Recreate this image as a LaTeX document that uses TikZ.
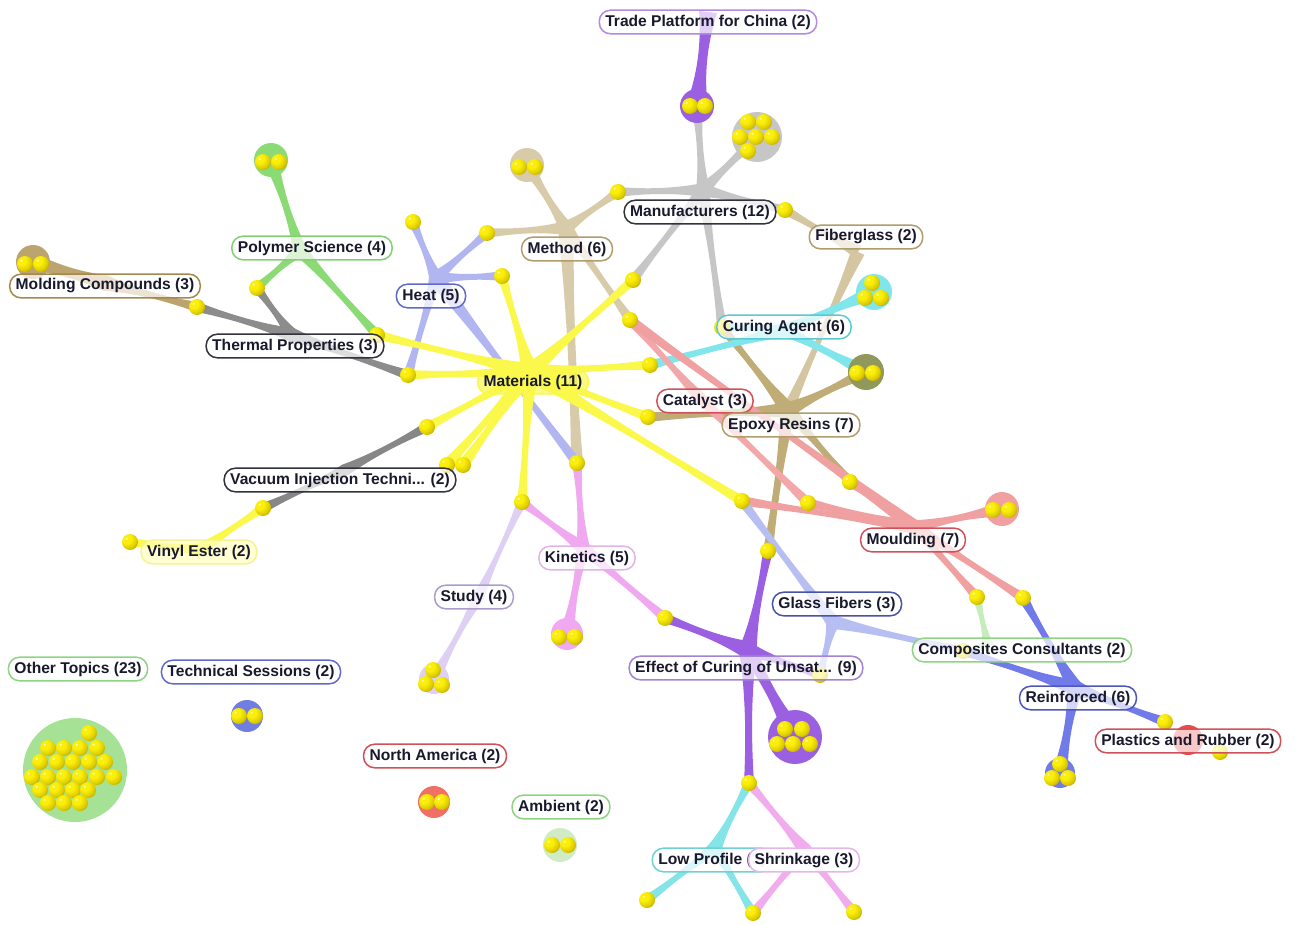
\documentclass[tikz,border=0pt]{standalone}
\usepackage{fontspec}
\setmainfont{Liberation Sans}
\usetikzlibrary{calc}

% strand colours
\definecolor{matY}{RGB}{250,248,75}
\definecolor{manG}{RGB}{198,198,198}
\definecolor{methT}{RGB}{215,203,170}
\definecolor{heatB}{RGB}{178,182,240}
\definecolor{polyG}{RGB}{140,218,118}
\definecolor{thermG}{RGB}{140,140,140}
\definecolor{moldT}{RGB}{188,164,110}
\definecolor{curC}{RGB}{128,230,235}
\definecolor{fibT}{RGB}{212,198,160}
\definecolor{epoT}{RGB}{192,172,118}
\definecolor{catR}{RGB}{242,168,168}
\definecolor{mouR}{RGB}{240,160,160}
\definecolor{vacG}{RGB}{135,135,135}
\definecolor{kinP}{RGB}{240,168,240}
\definecolor{stuL}{RGB}{222,208,242}
\definecolor{effP}{RGB}{155,95,225}
\definecolor{glaB}{RGB}{182,190,242}
\definecolor{comG}{RGB}{198,236,188}
\definecolor{reiB}{RGB}{112,122,232}
\definecolor{lowC}{RGB}{132,228,232}
\definecolor{shrP}{RGB}{240,172,236}
\definecolor{epoBlob}{RGB}{145,152,92}
\definecolor{techBlob}{RGB}{112,126,226}
\definecolor{naBlob}{RGB}{240,112,102}
\definecolor{ambBlob}{RGB}{208,236,198}
\definecolor{othBlob}{RGB}{165,226,150}
\definecolor{plaBlob}{RGB}{238,72,72}
% label borders
\definecolor{bTrade}{RGB}{178,138,226}
\definecolor{bDark}{RGB}{50,50,62}
\definecolor{bTan}{RGB}{176,156,108}
\definecolor{bPoly}{RGB}{132,206,116}
\definecolor{bHeat}{RGB}{96,106,200}
\definecolor{bMold}{RGB}{166,136,78}
\definecolor{bCur}{RGB}{92,200,210}
\definecolor{bRed}{RGB}{210,80,90}
\definecolor{bVinyl}{RGB}{244,244,150}
\definecolor{fVinyl}{RGB}{255,255,190}
\definecolor{bKin}{RGB}{226,180,230}
\definecolor{bStudy}{RGB}{172,156,206}
\definecolor{bGlass}{RGB}{72,82,166}
\definecolor{bGreen}{RGB}{142,212,130}
\definecolor{bTech}{RGB}{96,106,206}
\definecolor{bEff}{RGB}{162,132,212}
\definecolor{bReinf}{RGB}{78,88,186}
\definecolor{bLow}{RGB}{112,208,215}
\definecolor{bShr}{RGB}{230,182,235}
\definecolor{txt}{RGB}{25,25,45}
% document sphere shades
\definecolor{ysHi}{RGB}{255,255,200}
\definecolor{ysMain}{RGB}{250,238,10}
\definecolor{ysMid}{RGB}{222,204,0}
\definecolor{ysDark}{RGB}{160,140,0}
\definecolor{ysEdge}{RGB}{105,92,0}
\pgfdeclareradialshading{docsphere}{\pgfpoint{-12bp}{12bp}}{%
  color(0bp)=(ysHi); color(5bp)=(ysMain); color(14bp)=(ysMain);
  color(28bp)=(ysMid); color(42bp)=(ysDark); color(56bp)=(ysEdge); color(100bp)=(ysEdge)}

% tapered strand: [mid half width]{colour}{from}{to}{half width at from}{half width at to}
\newcommand\strand[6][2]{%
  \fill[#2] ($(#3)!#5pt!90:(#4)$)
    .. controls ($(#3)!0.33!(#4)!#1pt!90:(#4)$) and ($(#3)!0.67!(#4)!#1pt!90:(#4)$)
    .. ($(#4)!#6pt!-90:(#3)$) -- ($(#4)!#6pt!90:(#3)$)
    .. controls ($(#3)!0.67!(#4)!#1pt!-90:(#4)$) and ($(#3)!0.33!(#4)!#1pt!-90:(#4)$)
    .. ($(#3)!#5pt!-90:(#4)$) -- cycle;}

\tikzset{
  ballnode/.style={circle, minimum size=16pt, inner sep=0pt, shading=docsphere},
  blob/.style={circle, fill=#1, inner sep=0pt},
  lbl/.style={rounded corners=11pt, draw=#1, line width=1.5pt, fill=white,
    fill opacity=0.7, text opacity=1, inner xsep=6pt, inner ysep=4.5pt,
    font=\fontsize{15.6}{17}\selectfont\bfseries, text=txt},
}

\begin{document}
\begin{tikzpicture}[x=1pt,y=-1pt]
\useasboundingbox (0,0) rectangle (1297,925);
\fill[white] (0,0) rectangle (1297,925);

% ---------- document positions ----------
\coordinate (t1) at (690,106);  \coordinate (t2) at (705,106);
\coordinate (m1) at (748,122);  \coordinate (m2) at (764,122);
\coordinate (m3) at (740,137);  \coordinate (m4) at (756,137);
\coordinate (m5) at (772,137);  \coordinate (m6) at (748,151);
\coordinate (d1) at (519,167);  \coordinate (d2) at (535,167);
\coordinate (b618) at (618,192);
\coordinate (b785) at (785,210);
\coordinate (h1) at (413,222);
\coordinate (b487) at (487,233);
\coordinate (b502) at (502,276);
\coordinate (b633) at (633,280);
\coordinate (p1) at (263,162);  \coordinate (p2) at (279,162);
\coordinate (b257) at (257,288);
\coordinate (mc1) at (25,264);  \coordinate (mc2) at (41,264);
\coordinate (b197) at (197,307);
\coordinate (b377) at (377,335);
\coordinate (b408) at (408,375);
\coordinate (c1) at (872,283);  \coordinate (c2) at (865,298);  \coordinate (c3) at (881,298);
\coordinate (e1) at (857,373);  \coordinate (e2) at (873,373);
\coordinate (b630) at (630,320);
\coordinate (b650) at (650,365);
\coordinate (b648) at (648,417);
\coordinate (b722) at (722,327);
\coordinate (b850) at (850,482);
\coordinate (b808) at (808,503);
\coordinate (b742) at (742,501);
\coordinate (mo1) at (993,510); \coordinate (mo2) at (1009,510);
\coordinate (b427) at (427,427);
\coordinate (v1) at (447,465);  \coordinate (v2) at (463,465);
\coordinate (b263) at (263,508);
\coordinate (b130) at (130,542);
\coordinate (b522) at (522,502);
\coordinate (b577) at (577,463);
\coordinate (k1) at (559,637);  \coordinate (k2) at (575,637);
\coordinate (b665) at (665,618);
\coordinate (b768) at (768,551);
\coordinate (ef1) at (785,729); \coordinate (ef2) at (802,729);
\coordinate (ef3) at (777,744); \coordinate (ef4) at (793,744); \coordinate (ef5) at (810,744);
\coordinate (b820) at (820,675);
\coordinate (b749) at (749,783);
\coordinate (b647) at (647,900);
\coordinate (b753) at (753,913);
\coordinate (b854) at (854,912);
\coordinate (s1) at (433,670);  \coordinate (s2) at (426,684);  \coordinate (s3) at (442,685);
\coordinate (tc1) at (239,716); \coordinate (tc2) at (255,716);
\coordinate (na1) at (427,802); \coordinate (na2) at (442,802);
\coordinate (a1) at (552,845);  \coordinate (a2) at (568,845);
\coordinate (b977) at (977,597);
\coordinate (b1023) at (1023,598);
\coordinate (b963) at (963,651);
\coordinate (r1) at (1060,764); \coordinate (r2) at (1052,778); \coordinate (r3) at (1068,778);
\coordinate (b1165) at (1165,722);
\coordinate (b1220) at (1220,752);

% ---------- cluster centres ----------
\coordinate (tradeC) at (697,106);
\coordinate (manufC) at (757,137);
\coordinate (methodC) at (527,165);
\coordinate (polyC) at (271,160);
\coordinate (moldC) at (33,262);
\coordinate (curingC) at (874,292);
\coordinate (epoxyC) at (866,372);
\coordinate (mouldC) at (1002,509);
\coordinate (kinC) at (567,634);
\coordinate (effectC) at (795,737);
\coordinate (studyC) at (434,679);
\coordinate (techC) at (247,716);
\coordinate (naC) at (434,802);
\coordinate (ambC) at (560,845);
\coordinate (reinfC) at (1060,773);
\coordinate (plastC) at (1188,740);
\coordinate (otherC) at (75,770);

% ---------- hubs ----------
\coordinate (hTrade) at (708,12);
\coordinate (hManuf) at (703,190);
\coordinate (hMethod) at (566,228);
\coordinate (hHeat) at (436,278);
\coordinate (hPoly) at (300,250);
\coordinate (hThermal) at (292,335);
\coordinate (hMold) at (105,283);
\coordinate (hCuring) at (785,330);
\coordinate (hFiber) at (858,252);
\coordinate (hEpoxy) at (788,410);
\coordinate (hMat) at (530,372);
\coordinate (hCat) at (700,398);
\coordinate (hMould) at (915,527);
\coordinate (hVac) at (345,470);
\coordinate (hVinyl) at (200,550);
\coordinate (hKin) at (583,548);
\coordinate (hStudy) at (478,598);
\coordinate (hEffect) at (748,650);
\coordinate (hGlass) at (833,622);
\coordinate (hComp) at (988,646);
\coordinate (hReinf) at (1075,688);
\coordinate (hLow) at (715,848);
\coordinate (hShrink) at (805,850);

% ---------- strands ----------
% Trade Platform for China
\strand[3]{effP}{hTrade}{tradeC}{9}{11}
% Manufacturers
\strand{manG}{hManuf}{tradeC}{7}{6}
\strand{manG}{hManuf}{manufC}{7}{8}
\strand{manG}{hManuf}{b618}{7}{5}
\strand{manG}{hManuf}{b785}{7}{5}
\strand{manG}{hManuf}{b633}{7}{5}
\strand{manG}{hManuf}{b722}{7}{5}
% Method
\strand{methT}{hMethod}{methodC}{7}{8}
\strand{methT}{hMethod}{b618}{7}{5}
\strand{methT}{hMethod}{b487}{7}{5}
\strand[3]{methT}{hMethod}{b577}{8}{6}
\strand{methT}{hMethod}{b630}{7}{5}
% Heat
\strand{heatB}{hHeat}{h1}{7}{5}
\strand{heatB}{hHeat}{b487}{7}{5}
\strand{heatB}{hHeat}{b502}{7}{5}
\strand{heatB}{hHeat}{b408}{7}{5}
\strand{heatB}{hHeat}{b577}{8}{5}
% Fiberglass
\strand{fibT}{hFiber}{b785}{7}{5}
\strand[1.5]{fibT}{hFiber}{hEpoxy}{7}{6}
% Epoxy Resins
\strand{epoT}{hEpoxy}{b722}{8}{5}
\strand{epoT}{hEpoxy}{epoxyC}{8}{7}
\strand{epoT}{hEpoxy}{b648}{8}{5}
\strand{epoT}{hEpoxy}{b850}{8}{5}
\strand[2.5]{epoT}{hEpoxy}{b768}{8}{5}
% Curing Agent
\strand{curC}{hCuring}{curingC}{7}{9}
\strand{curC}{hCuring}{epoxyC}{7}{8}
\strand{curC}{hCuring}{b650}{7}{5}
\strand{curC}{hCuring}{b722}{7}{5}
% Materials
\strand{matY}{hMat}{b377}{9}{5}
\strand{matY}{hMat}{b408}{9}{5}
\strand{matY}{hMat}{b502}{9}{5}
\strand{matY}{hMat}{b633}{9}{5}
\strand{matY}{hMat}{b650}{9}{5}
\strand{matY}{hMat}{b648}{9}{5}
\strand{matY}{hMat}{b742}{9}{5}
\strand{matY}{hMat}{b522}{9}{5}
\strand{matY}{hMat}{b427}{9}{5}
\strand{matY}{hMat}{v1}{9}{6}
\strand{matY}{hMat}{v2}{9}{6}
% Catalyst
\strand{catR}{hCat}{b630}{6}{5}
\strand{catR}{hCat}{b808}{6}{5}
% Moulding
\strand{mouR}{hMould}{mouldC}{7}{8}
\strand{mouR}{hMould}{b808}{7}{5}
\strand{mouR}{hMould}{b742}{7}{5}
\strand{mouR}{hMould}{b850}{7}{5}
\strand{mouR}{hMould}{b977}{7}{5}
\strand{mouR}{hMould}{b1023}{7}{5}
\strand{mouR}{hMould}{b630}{7}{5}
% Thermal Properties
\strand{thermG}{hThermal}{b197}{7}{5}
\strand{thermG}{hThermal}{b257}{7}{5}
\strand{thermG}{hThermal}{b408}{7}{5}
% Polymer Science
\strand{polyG}{hPoly}{polyC}{7}{8}
\strand{polyG}{hPoly}{b257}{7}{5}
\strand{polyG}{hPoly}{b377}{7}{5}
% Molding Compounds
\strand[4]{moldT}{hMold}{moldC}{8}{9}
\strand{moldT}{hMold}{b197}{8}{5}
% Vacuum Injection
\strand{vacG}{hVac}{b427}{6}{5}
\strand{vacG}{hVac}{b263}{6}{5}
% Vinyl Ester
\strand{matY}{hVinyl}{b263}{7}{5}
\strand{matY}{hVinyl}{b130}{7}{5}
% Kinetics
\strand{kinP}{hKin}{b577}{7}{5}
\strand{kinP}{hKin}{b522}{7}{5}
\strand{kinP}{hKin}{kinC}{7}{8}
\strand{kinP}{hKin}{b665}{7}{5}
% Study
\strand[1.5]{stuL}{hStudy}{b522}{6}{5}
\strand[1.5]{stuL}{hStudy}{studyC}{6}{7}
% Effect of Curing
\strand[2.5]{effP}{hEffect}{b768}{9}{5}
\strand[2.5]{effP}{hEffect}{b665}{9}{5}
\strand[3]{effP}{hEffect}{effectC}{9}{12}
\strand[2.5]{effP}{hEffect}{b749}{9}{5}
\strand{effP}{hEffect}{b820}{8}{5}
% Glass Fibers
\strand{glaB}{hGlass}{b742}{7}{5}
\strand{glaB}{hGlass}{b820}{7}{5}
\strand{glaB}{hGlass}{b963}{7}{5}
% Composites Consultants
\strand[1.5]{comG}{hComp}{b977}{6}{5}
\strand[1.5]{comG}{hComp}{b963}{6}{5}
% Reinforced
\strand{reiB}{hReinf}{b963}{8}{5}
\strand{reiB}{hReinf}{b1023}{8}{5}
\strand{reiB}{hReinf}{b1165}{8}{5}
\strand[2.5]{reiB}{hReinf}{reinfC}{8}{8}
% Low Profile
\strand{lowC}{hLow}{b749}{7}{5}
\strand{lowC}{hLow}{b647}{7}{5}
\strand{lowC}{hLow}{b753}{7}{5}
% Shrinkage
\strand{shrP}{hShrink}{b749}{7}{5}
\strand{shrP}{hShrink}{b753}{7}{5}
\strand{shrP}{hShrink}{b854}{7}{5}

% ---------- cluster blobs ----------
\node[blob=effP, minimum size=34pt] (tradeBlob) at (tradeC) {};
\node[blob=manG, minimum size=50pt] (manufBlob) at (manufC) {};
\node[blob=methT, minimum size=34pt] (methodBlob) at (methodC) {};
\node[blob=polyG, minimum size=34pt] (polyBlob) at (polyC) {};
\node[blob=moldT, minimum size=34pt] (moldBlob) at (moldC) {};
\node[blob=curC, minimum size=36pt] (curingBlob) at (curingC) {};
\node[blob=epoBlob, minimum size=36pt] (epoxyBlob) at (epoxyC) {};
\node[blob=mouR, minimum size=34pt] (mouldBlob) at (mouldC) {};
\node[blob=kinP, minimum size=32pt] (kinBlob) at (kinC) {};
\node[blob=effP, minimum size=54pt] (effectBlob) at (effectC) {};
\node[blob=stuL, minimum size=30pt] (studyBlob) at (studyC) {};
\node[blob=techBlob, minimum size=32pt] (techBlob) at (techC) {};
\node[blob=naBlob, minimum size=32pt] (naBlob) at (naC) {};
\node[blob=ambBlob, minimum size=34pt] (ambBlob) at (ambC) {};
\node[blob=reiB, minimum size=30pt] (reinfBlob) at (reinfC) {};
\node[blob=plaBlob, minimum size=30pt] (plastBlob) at (plastC) {};
\node[blob=othBlob, minimum size=104pt] (otherBlob) at (otherC) {};

% ---------- documents ----------
\foreach \n in {t1,t2,m1,m2,m3,m4,m5,m6,d1,d2,b618,b785,h1,b487,b502,b633,
  p1,p2,b257,mc1,mc2,b197,b377,b408,c1,c2,c3,e1,e2,b630,b650,b648,b722,
  b850,b808,b742,mo1,mo2,b427,v1,v2,b263,b130,b522,b577,k1,k2,b665,b768,
  ef1,ef2,ef3,ef4,ef5,b820,b749,b647,b753,b854,s1,s2,s3,tc1,tc2,na1,na2,
  a1,a2,b977,b1023,b963,r1,r2,r3,b1165,b1220}
  \node[ballnode] (B\n) at (\n) {};
\foreach \x/\y [count=\i] in {89/733,
  48/748,64/748,80/748,97/748,
  40/762,57/762,73/762,89/762,105/762,
  32/777,48/777,64/777,80/777,97/777,114/777,
  40/790,57/790,73/790,88/790,
  48/803,64/803,80/803}
  \node[ballnode] (O\i) at (\x,\y) {};

% ---------- topic labels ----------
\node[lbl=bTrade] (lTrade) at (708,22) {Trade Platform for China (2)};
\node[lbl=bDark] (lManuf) at (700,212) {Manufacturers (12)};
\node[lbl=bTan] (lFiber) at (866,237) {Fiberglass (2)};
\node[lbl=bTan] (lMethod) at (567,249) {Method (6)};
\node[lbl=bPoly] (lPoly) at (312,248) {Polymer Science (4)};
\node[lbl=bHeat] (lHeat) at (431,296) {Heat (5)};
\node[lbl=bMold] (lMold) at (105,286) {Molding Compounds (3)};
\node[lbl=bDark] (lThermal) at (295,346) {Thermal Properties (3)};
\node[lbl=bCur] (lCuring) at (784,327) {Curing Agent (6)};
\node[lbl=matY, fill=matY] (lMat) at (533,382) {Materials (11)};
\node[lbl=bRed] (lCat) at (705,401) {Catalyst (3)};
\node[lbl=bTan] (lEpoxy) at (791,425) {Epoxy Resins (7)};
\node[lbl=bDark] (lVac) at (340,480) {Vacuum Injection Techni... (2)};
\node[lbl=bVinyl, fill=fVinyl] (lVinyl) at (199,552) {Vinyl Ester (2)};
\node[lbl=bRed] (lMould) at (913,540) {Moulding (7)};
\node[lbl=bKin] (lKin) at (587,558) {Kinetics (5)};
\node[lbl=bStudy] (lStudy) at (474,597) {Study (4)};
\node[lbl=bGlass] (lGlass) at (837,604) {Glass Fibers (3)};
\node[lbl=bGreen] (lComp) at (1022,650) {Composites Consultants (2)};
\node[lbl=bGreen] (lOther) at (78,669) {Other Topics (23)};
\node[lbl=bTech] (lTech) at (251,672) {Technical Sessions (2)};
\node[lbl=bEff] (lEffect) at (746,668) {Effect of Curing of Unsat... (9)};
\node[lbl=bReinf] (lReinf) at (1078,698) {Reinforced (6)};
\node[lbl=bRed] (lPlast) at (1188,741) {Plastics and Rubber (2)};
\node[lbl=bRed] (lNA) at (435,756) {North America (2)};
\node[lbl=bGreen] (lAmb) at (561,807) {Ambient (2)};
\node[lbl=bLow] (lLow) at (712,860) {Low Profile (3)};
\node[lbl=bShr, fill opacity=0.93] (lShr) at (804,860) {Shrinkage (3)};
\end{tikzpicture}
\end{document}
